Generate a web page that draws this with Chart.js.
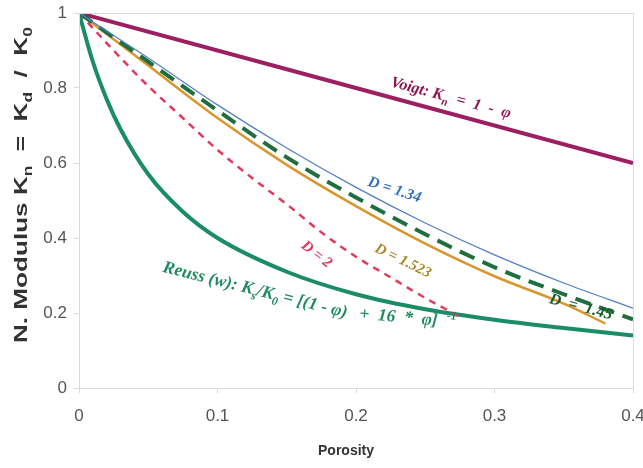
<!DOCTYPE html>
<html>
<head>
<meta charset="utf-8">
<script src="https://cdn.jsdelivr.net/npm/chart.js@4.4.1/dist/chart.umd.min.js"></script>
<style>
  html, body { margin: 0; padding: 0; background: #fff; }
  #wrap { width: 643px; height: 468px; }
</style>
</head>
<body>
<div id="wrap"><canvas id="c"></canvas></div>
<script>
// tick labels
const xTicks = [0, 0.1, 0.2, 0.3, 0.4];
const yTicks = [0, 0.2, 0.4, 0.6, 0.8, 1];

// porosity / normalised modulus values
const phiVoigt = [0, 0.4];
const voigt = [1, 0.6];

const phiReuss = [0, 0.01, 0.02, 0.03, 0.05, 0.075, 0.1, 0.15, 0.2, 0.25, 0.3, 0.35, 0.4];
const reuss = [1, 0.87, 0.77, 0.69, 0.57, 0.47, 0.4, 0.31, 0.25, 0.21, 0.182, 0.16, 0.14];

const phiD134 = [0, 0.05, 0.1, 0.15, 0.2, 0.25, 0.3, 0.35, 0.4];
const d134 = [1, 0.88, 0.755, 0.64, 0.535, 0.44, 0.355, 0.28, 0.213];

const phiD145 = [0, 0.05, 0.1, 0.15, 0.2, 0.25, 0.3, 0.35, 0.4];
const d145 = [1, 0.87, 0.74, 0.615, 0.508, 0.41, 0.322, 0.25, 0.183];

const phiD1523 = [0, 0.05, 0.1, 0.15, 0.2, 0.25, 0.3, 0.35, 0.38];
const d1523 = [1, 0.86, 0.72, 0.595, 0.485, 0.385, 0.298, 0.225, 0.172];

const phiD2 = [0, 0.025, 0.05, 0.075, 0.1, 0.125, 0.15, 0.175, 0.2, 0.225, 0.25, 0.275];
const d2 = [1, 0.9, 0.805, 0.72, 0.635, 0.56, 0.49, 0.415, 0.35, 0.295, 0.24, 0.19];

const pts = (xs, ys) => xs.map((x, i) => ({ x, y: ys[i] }));

const SERIF = '"Liberation Serif", "DejaVu Serif", serif';
const SANS = '"Liberation Sans", Arial, sans-serif';

// curve labels: [text, "sub"|"sup"] parts; {turn} bends the rest of the line
const notes = [
  { at: [0.2245, 0.805], rot: 15, size: 16, color: "#8c1652",
    parts: [["Voigt: K"], ["n", "sub"], ["  =  1  -  φ"]] },
  { at: [0.208, 0.54], rot: 18, size: 15.5, color: "#3570c0",
    parts: [["D = 1.34"]] },
  { at: [0.213, 0.365], rot: 26, size: 15, color: "#a8892a",
    parts: [["D = 1.523"]] },
  { at: [0.16, 0.376], rot: 38, size: 15, color: "#e3345a",
    parts: [["D = 2"]] },
  { at: [0.339, 0.227], rot: 15, size: 16, color: "#1c5a2c",
    parts: [["D  =  1.45"]] },
  { at: [0.06, 0.31], rot: 14, size: 17.5, color: "#1f8b5e",
    parts: [["Reuss (w): K"], ["s", "sub"], ["/K"], ["0", "sub"], [" = [(1 - φ)"],
            { turn: -9 }, ["   +  16  *  φ]  "], ["-1", "sup"]] },
];

function drawRich(ctx, parts, size, family, weight) {
  let x = 0;
  for (const p of parts) {
    if (p.turn !== undefined) {
      ctx.translate(x, 0);
      ctx.rotate(p.turn * Math.PI / 180);
      x = 0;
      continue;
    }
    const kind = p[1];
    const s = kind ? Math.round(size * 0.68) : size;
    const dy = kind === "sub" ? size * 0.28 : kind === "sup" ? -size * 0.42 : 0;
    ctx.font = `${weight} ${s}px ${family}`;
    ctx.fillText(p[0], x, dy);
    x += ctx.measureText(p[0]).width;
  }
}

const decor = {
  id: "decor",
  afterDraw(chart) {
    const { ctx, chartArea: a, scales } = chart;
    ctx.save();
    // light frame around the plot
    ctx.strokeStyle = "#d9d9d9";
    ctx.lineWidth = 1;
    ctx.strokeRect(Math.round(a.left) + 0.5, Math.round(a.top) + 0.5, Math.round(a.right - a.left), Math.round(a.bottom - a.top));

    ctx.textBaseline = "alphabetic";
    ctx.textAlign = "left";
    for (const n of notes) {
      ctx.save();
      ctx.fillStyle = n.color;
      ctx.translate(scales.x.getPixelForValue(n.at[0]), scales.y.getPixelForValue(n.at[1]));
      ctx.rotate(n.rot * Math.PI / 180);
      drawRich(ctx, n.parts, n.size, SERIF, "italic bold");
      ctx.restore();
    }

    // axis titles (the y title is stretched along its length like the original)
    ctx.fillStyle = "#333";
    ctx.save();
    ctx.translate(27, 343);
    ctx.rotate(-Math.PI / 2);
    ctx.scale(1.45, 1);
    drawRich(ctx, [["N. Modulus K"], ["n", "sub"], ["  =  K"], ["d", "sub"], ["  /  K"], ["0", "sub"]], 18, SANS, "bold");
    ctx.restore();

    ctx.font = `bold 14px ${SANS}`;
    ctx.textAlign = "center";
    ctx.fillText("Porosity", 346, 455);
    ctx.restore();
  },
};

new Chart(document.getElementById("c"), {
  type: "scatter",
  data: {
    datasets: [
      { data: pts(phiD134, d134), borderColor: "#4f7fc4", borderWidth: 1.2 },
      { data: pts(phiD145, d145), borderColor: "#1f6e3f", borderWidth: 4, borderDash: [16, 9] },
      { data: pts(phiD1523, d1523), borderColor: "#d9962e", borderWidth: 2.5 },
      { data: pts(phiD2, d2), borderColor: "#e23a5d", borderWidth: 2.5, borderDash: [7, 6] },
      { data: pts(phiVoigt, voigt), borderColor: "#9c1f62", borderWidth: 4 },
      { data: pts(phiReuss, reuss), borderColor: "#1a8c68", borderWidth: 4 },
    ].map((d) => ({ ...d, showLine: true, fill: false, pointRadius: 0, cubicInterpolationMode: "monotone" })),
  },
  options: {
    responsive: true,
    maintainAspectRatio: false,
    animation: false,
    layout: { padding: { top: 13, right: 10, left: 0, bottom: 0 } },
    plugins: { legend: { display: false }, tooltip: { enabled: false } },
    scales: {
      x: {
        type: "linear",
        min: 0,
        max: 0.4,
        afterBuildTicks: (s) => { s.ticks = xTicks.map((v) => ({ value: v })); },
        afterFit: (s) => { s.height = 80; s.paddingLeft = 0; s.paddingRight = 0; },
        ticks: { font: { family: SANS, size: 17 }, color: "#555", padding: 13, maxRotation: 0, callback: (v) => String(v) },
        grid: { drawOnChartArea: false, tickLength: 5, color: "#d9d9d9" },
        border: { color: "#d9d9d9" },
      },
      y: {
        type: "linear",
        min: 0,
        max: 1,
        afterBuildTicks: (s) => { s.ticks = yTicks.map((v) => ({ value: v })); },
        afterFit: (s) => { s.width = 79; s.paddingTop = 0; s.paddingBottom = 0; },
        ticks: { font: { family: SANS, size: 17 }, color: "#555", padding: 7, callback: (v) => String(v) },
        grid: { drawOnChartArea: false, tickLength: 5, color: "#d9d9d9" },
        border: { color: "#d9d9d9" },
      },
    },
  },
  plugins: [decor],
});
</script>
</body>
</html>
